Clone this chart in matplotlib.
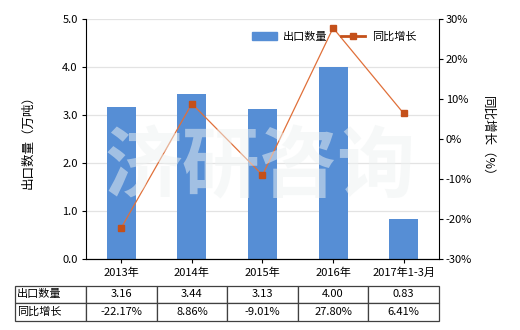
import matplotlib

matplotlib.use("Agg")
import matplotlib.pyplot as plt
from matplotlib.lines import Line2D
from matplotlib.patches import Patch

plt.rcParams["font.family"] = ["Noto Sans CJK SC", "DejaVu Sans"]

categories = ["2013年", "2014年", "2015年", "2016年", "2017年1-3月"]
export_qty = [3.16, 3.44, 3.13, 4.00, 0.83]
yoy_growth = [-22.17, 8.86, -9.01, 27.80, 6.41]
qty_labels = ["3.16", "3.44", "3.13", "4.00", "0.83"]
yoy_labels = ["-22.17%", "8.86%", "-9.01%", "27.80%", "6.41%"]

BAR = "#568ED5"
LINE = "#E0703A"
MARK = "#C4501A"

fig = plt.figure(figsize=(5.2, 3.3), dpi=100)
ax = fig.add_axes([0.1654, 0.215, 0.6788, 0.727])
x = list(range(len(categories)))

ax.bar(x, export_qty, width=0.41, color=BAR, zorder=2)
ax.set_xlim(-0.5, len(categories) - 0.5)
ax.set_ylim(0, 5)
ax.set_yticks([0, 1, 2, 3, 4, 5])
ax.set_yticklabels([f"{v:.1f}" for v in [0, 1, 2, 3, 4, 5]], fontsize=8)
ax.set_xticks(x)
ax.set_xticklabels(categories, fontsize=8)
ax.grid(axis="y", color="#E3E3E3", linewidth=0.9, zorder=0)
ax.set_axisbelow(True)
ax.spines["top"].set_visible(False)
ax.spines["right"].set_visible(False)
ax.tick_params(axis="both", length=3, width=0.8, pad=3)
ax.set_ylabel("出口数量（万吨）", fontsize=9, labelpad=20)

ax2 = ax.twinx()
ax2.plot(x, yoy_growth, color=LINE, linewidth=0.9, marker="s", markersize=5,
         markerfacecolor=MARK, markeredgecolor=MARK, zorder=3)
ax2.set_ylim(-30, 30)
ax2.set_yticks([-30, -20, -10, 0, 10, 20, 30])
ax2.set_yticklabels([f"{v}%" for v in [-30, -20, -10, 0, 10, 20, 30]], fontsize=8)
ax2.spines["top"].set_visible(False)
ax2.spines["left"].set_visible(False)
ax2.tick_params(axis="y", length=3, width=0.8, pad=2)
ax2.set_ylabel("同比增长（%）", fontsize=9, rotation=-90, labelpad=16)

# faint watermark
fig.text(0.5, 0.49, "济研咨询", fontsize=56, color="#EEF2F2", alpha=0.5,
         ha="center", va="center", fontweight="bold", zorder=5)

handles = [Patch(facecolor=BAR, edgecolor=BAR),
           Line2D([0], [0], color=MARK, marker="s", markersize=4, linewidth=2)]
ax2.legend(handles, ["出口数量", "同比增长"], loc="upper right",
           bbox_to_anchor=(0.965, 0.99), ncol=2, frameon=False, fontsize=8,
           handlelength=2.2, columnspacing=1.2, handletextpad=0.6)

# data table under the chart
rows = [["出口数量"] + qty_labels, ["同比增长"] + yoy_labels]
w_first = 71 / 353
w_col = 1 / len(categories)
tbl = ax.table(cellText=rows, colWidths=[w_first] + [w_col] * len(categories),
               bbox=[-w_first, -0.258, 1 + w_first, 0.147], cellLoc="center")
tbl.auto_set_font_size(False)
for (r, c), cell in tbl.get_celld().items():
    cell.set_edgecolor("#404040")
    cell.set_linewidth(0.9)
    cell.get_text().set_fontsize(8)
    if c == 0:
        cell.get_text().set_ha("left")
        cell._loc = "left"
        cell.PAD = 0.03

fig.savefig("out.png", dpi=100)
